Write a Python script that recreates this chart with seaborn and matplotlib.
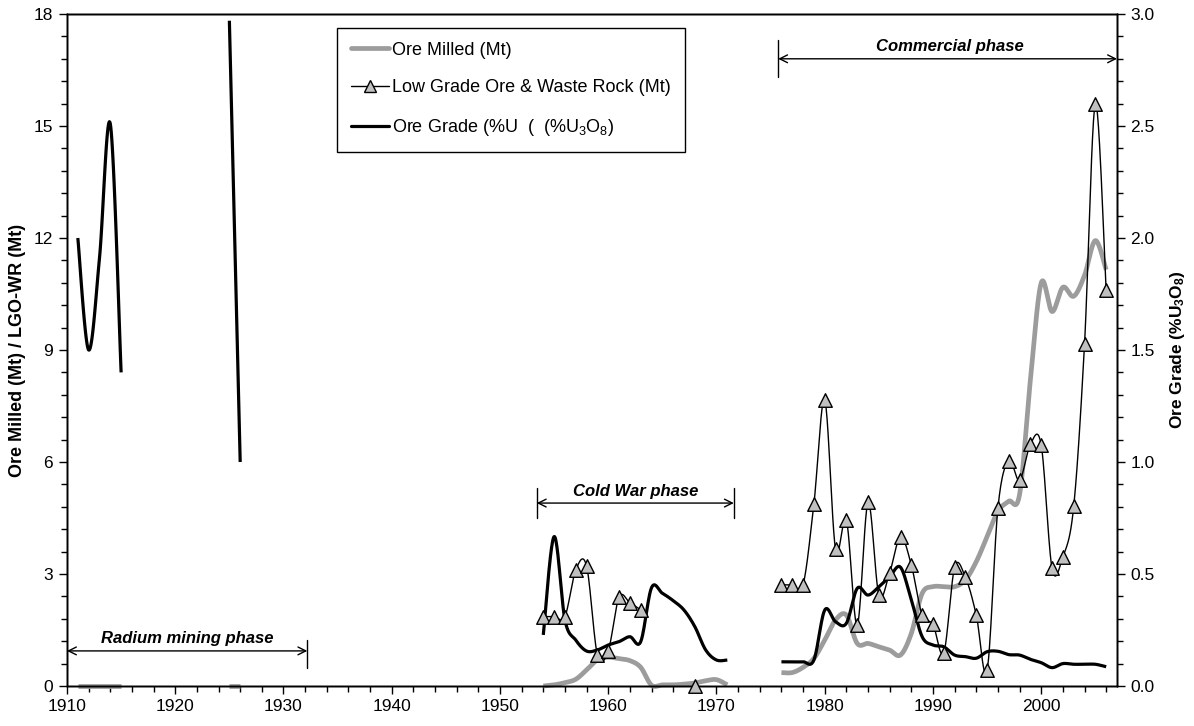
import numpy as np
import matplotlib
matplotlib.use("Agg")
import matplotlib.pyplot as plt
from matplotlib.lines import Line2D
from matplotlib.ticker import MultipleLocator, FormatStrFormatter
import seaborn as sns

# ---------------- data ----------------
# Radium mining phase
radium_years = [1911, 1912, 1913, 1914, 1915]
radium_grade = [2.00, 1.50, 1.91, 2.51, 1.40]        # %U3O8
radium_milled = [0.0, 0.0, 0.0, 0.0, 0.0]            # Mt
radium2_years = [1925, 1926]
radium2_grade = [2.97, 1.00]
radium2_milled = [0.0, 0.0]

# Cold War phase
coldwar_years = list(range(1954, 1972))
coldwar_milled = [0.00, 0.03, 0.09, 0.18, 0.43, 0.70, 0.77, 0.73, 0.68, 0.50,
                  0.02, 0.03, 0.03, 0.05, 0.08, 0.14, 0.17, 0.03]
coldwar_grade = [0.228, 0.667, 0.295, 0.205, 0.156, 0.161, 0.183, 0.198, 0.220,
                 0.198, 0.439, 0.414, 0.381, 0.339, 0.265, 0.161, 0.116, 0.116]
coldwar_lgo_years = list(range(1954, 1964))
coldwar_lgo = [1.86, 1.86, 1.86, 3.11, 3.21, 0.83, 0.95, 2.38, 2.23, 2.04]
isolated_lgo_years = [1968]
isolated_lgo = [0.0]

# Commercial phase
commercial_years = list(range(1976, 2007))
commercial_milled = [0.36, 0.36, 0.50, 0.74, 1.23, 1.77, 1.90, 1.14, 1.14, 1.05,
                     0.96, 0.83, 1.41, 2.48, 2.66, 2.66, 2.66, 2.84, 3.33, 4.00,
                     4.68, 4.95, 5.13, 8.20, 10.80, 10.03, 10.68, 10.44, 11.00,
                     11.93, 11.15]
commercial_grade = [0.108, 0.108, 0.108, 0.116, 0.339, 0.287, 0.280, 0.436, 0.406,
                    0.443, 0.488, 0.530, 0.384, 0.220, 0.183, 0.175, 0.138, 0.131,
                    0.124, 0.153, 0.155, 0.140, 0.138, 0.119, 0.104, 0.082, 0.100,
                    0.097, 0.097, 0.097, 0.086]
commercial_lgo = [2.71, 2.71, 2.71, 4.88, 7.66, 3.66, 4.45, 1.63, 4.92, 2.44,
                  3.04, 4.00, 3.24, 1.90, 1.65, 0.89, 3.18, 2.91, 1.90, 0.42,
                  4.77, 6.04, 5.51, 6.48, 6.45, 3.15, 3.46, 4.81, 9.16, 15.60,
                  10.60]

# Phase annotations: (label, start year, end year)
phases = [("Radium mining phase", 1910.0, 1932.2),
          ("Cold War phase", 1953.4, 1971.6),
          ("Commercial phase", 1975.7, 2007.0)]

x_ticks = list(range(1910, 2001, 10))
left_ticks = [0, 3, 6, 9, 12, 15, 18]
right_ticks = [0.0, 0.5, 1.0, 1.5, 2.0, 2.5, 3.0]

legend_labels = ["Ore Milled (Mt)",
                 "Low Grade Ore & Waste Rock (Mt)",
                 "Ore Grade (%U  (  (%U$_3$O$_8$)"]


# ---------------- helpers ----------------
def smooth(xs, ys, n=24):
    """Excel-style smoothed line (Catmull-Rom / Bezier) through the points."""
    P = np.column_stack([np.asarray(xs, float), np.asarray(ys, float)])
    if len(P) < 3:
        return P[:, 0], P[:, 1]
    ext = np.vstack([P[0], P, P[-1]])
    out = []
    t = np.linspace(0, 1, n)[:, None]
    for i in range(len(P) - 1):
        p0, p1, p2, p3 = ext[i], ext[i + 1], ext[i + 2], ext[i + 3]
        b1 = p1 + (p2 - p0) / 6.0
        b2 = p2 - (p3 - p1) / 6.0
        seg = ((1 - t) ** 3) * p1 + 3 * ((1 - t) ** 2) * t * b1 + \
              3 * (1 - t) * t ** 2 * b2 + t ** 3 * p2
        out.append(seg if i == 0 else seg[1:])
    S = np.vstack(out)
    return S[:, 0], S[:, 1]


# ---------------- style ----------------
sns.set_theme(style="ticks")
plt.rcParams["font.family"] = ["Liberation Sans", "DejaVu Sans"]
plt.rcParams["mathtext.fontset"] = "custom"
plt.rcParams["mathtext.rm"] = "Liberation Sans"
plt.rcParams["mathtext.bf"] = "Liberation Sans:bold"
plt.rcParams["mathtext.it"] = "Liberation Sans:italic"
for k in ["text.color", "axes.labelcolor", "xtick.color", "ytick.color",
          "xtick.labelcolor", "ytick.labelcolor", "axes.edgecolor"]:
    plt.rcParams[k] = "black"

GRAY = "#9c9c9c"
TRI = "#c0c0c0"

fig = plt.figure(figsize=(11.94, 7.26), dpi=100)
ax = fig.add_axes([67 / 1194, 40 / 726, 1050 / 1194, 672 / 726])
ax_g = ax.twinx()      # right scale (ore grade)
ax_t = ax.twinx()      # left scale again, top layer (LGO-WR)

for a in (ax, ax_g, ax_t):
    a.set_xlim(1910, 2007)
ax.set_ylim(0, 18)
ax_t.set_ylim(0, 18)
ax_g.set_ylim(0, 3.0)

# Ore milled (grey, thick)
for yrs, vals in [(radium_years, radium_milled), (radium2_years, radium2_milled),
                  (coldwar_years, coldwar_milled), (commercial_years, commercial_milled)]:
    sx, sy = smooth(yrs, vals)
    sns.lineplot(x=sx, y=sy, ax=ax, color=GRAY, lw=3.4, sort=False,
                 estimator=None, clip_on=False, solid_capstyle="butt")

# Ore grade (black)
for yrs, vals in [(radium_years, radium_grade), (radium2_years, radium2_grade),
                  (coldwar_years, coldwar_grade), (commercial_years, commercial_grade)]:
    sx, sy = smooth(yrs, vals)
    sns.lineplot(x=sx, y=sy, ax=ax_g, color="black", lw=2.3, sort=False,
                 estimator=None, solid_capstyle="butt")

# Low grade ore & waste rock (thin line + triangles)
for yrs, vals in [(coldwar_lgo_years, coldwar_lgo), (commercial_years, commercial_lgo)]:
    sx, sy = smooth(yrs, vals)
    sns.lineplot(x=sx, y=sy, ax=ax_t, color="black", lw=1.0, sort=False,
                 estimator=None)
for yrs, vals in [(coldwar_lgo_years, coldwar_lgo), (isolated_lgo_years, isolated_lgo),
                  (commercial_years, commercial_lgo)]:
    sns.scatterplot(x=yrs, y=vals, ax=ax_t, marker="^", s=95, color=TRI,
                    edgecolor="black", linewidth=1.0, clip_on=False, zorder=5)

# ---------------- axes formatting ----------------
ax.set_xticks(x_ticks)
ax.xaxis.set_minor_locator(MultipleLocator(2))
ax.set_yticks(left_ticks)
ax.yaxis.set_minor_locator(MultipleLocator(0.6))
ax.tick_params(axis="both", which="major", direction="out", length=6, width=1,
               labelsize=12.5, color="black", labelcolor="black")
ax.tick_params(axis="both", which="minor", direction="out", length=4, width=1,
               color="black")
ax.tick_params(axis="y", which="major", pad=4)

ax_g.set_yticks(right_ticks)
ax_g.yaxis.set_minor_locator(MultipleLocator(0.1))
ax_g.yaxis.set_major_formatter(FormatStrFormatter("%.1f"))
ax_g.tick_params(axis="y", which="major", direction="out", length=6, width=1,
                 labelsize=12.5, color="black", labelcolor="black")
ax_g.tick_params(axis="y", which="minor", direction="out", length=4, width=1,
                 color="black")

ax_t.yaxis.set_visible(False)
ax_t.set_ylabel("")
for a in (ax, ax_g, ax_t):
    for sp in a.spines.values():
        sp.set_color("black")
        sp.set_linewidth(1.0)
        sp.set_visible(True)

ax.set_xlabel("")
ax.set_ylabel("Ore Milled (Mt) / LGO-WR (Mt)", fontsize=13, fontweight="bold",
              color="black")
ax.yaxis.set_label_coords(-0.039, 0.5)
ax_g.set_ylabel("Ore Grade (%U$_\\mathbf{3}$O$_\\mathbf{8}$)", fontsize=12.5,
                fontweight="bold", rotation=90, color="black")
ax_g.yaxis.set_label_coords(1.049, 0.5)

# ---------------- phase annotations ----------------
ph_y = {"Radium mining phase": (0.94, 0.48, 1.23),
        "Cold War phase": (4.90, 4.50, 5.30),
        "Commercial phase": (16.80, 16.31, 17.30)}
for name, x0, x1 in phases:
    yv, yb0, yb1 = ph_y[name]
    ax_t.annotate("", xy=(x0, yv), xytext=(x1, yv),
                  arrowprops=dict(arrowstyle="<->", lw=1.0, color="black",
                                  shrinkA=0, shrinkB=0, mutation_scale=14))
    if name != "Commercial phase":
        ax_t.plot([x1, x1], [yb0, yb1], color="black", lw=1.0)
    if name != "Radium mining phase":
        ax_t.plot([x0, x0], [yb0, yb1], color="black", lw=1.0)
    ax_t.text((x0 + x1) / 2 if name != "Commercial phase" else 1991.6, yv + 0.12,
              name, ha="center", va="bottom", fontsize=12, fontweight="bold",
              style="italic", color="black")

# ---------------- legend ----------------
handles = [Line2D([], [], color=GRAY, lw=3.4),
           Line2D([], [], color="black", lw=1.0, marker="^", markersize=9,
                  markerfacecolor=TRI, markeredgecolor="black"),
           Line2D([], [], color="black", lw=2.3)]
leg = ax_t.legend(handles, legend_labels, loc="upper left",
                  bbox_to_anchor=(337 / 1194, 1 - 28 / 726),
                  bbox_transform=fig.transFigure, borderaxespad=0,
                  fontsize=13, frameon=True, fancybox=False, shadow=False,
                  handlelength=2.15, handletextpad=0.17, labelspacing=1.16,
                  borderpad=0.75, numpoints=1)
leg.get_frame().set_edgecolor("black")
leg.get_frame().set_linewidth(1.0)
leg.get_frame().set_facecolor("white")
leg.get_frame().set_alpha(1.0)
for txt in leg.get_texts():
    txt.set_color("black")

fig.savefig("out.png", dpi=100)
